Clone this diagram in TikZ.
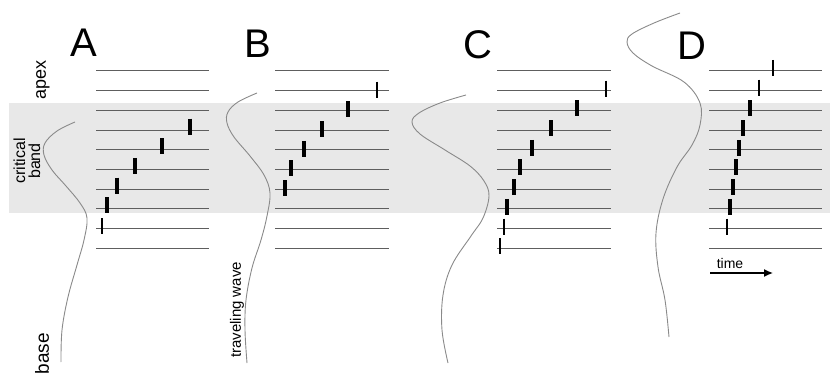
\documentclass[tikz,border=0pt]{standalone}
\usepackage{fontspec}
\setmainfont{Liberation Sans}
\usetikzlibrary{arrows.meta}
\definecolor{bandgray}{HTML}{E8E8E8}
\definecolor{linegray}{HTML}{5E5E5E}
\definecolor{wavegray}{HTML}{8A8A8A}
\begin{document}
\begin{tikzpicture}[x=1pt,y=-1pt,
  fiber/.style={draw=linegray,line width=1pt},
  wave/.style={draw=wavegray,line width=0.9pt},
  thickspike/.style={line width=4pt,black},
  thinspike/.style={line width=1.5pt,black},
  panel/.style={font=\fontsize{40}{40}\selectfont,inner sep=0pt,anchor=base},
  sidelabel/.style={rotate=90,inner sep=0pt,align=center}]
\useasboundingbox (0,0) rectangle (830,374);
% critical band
\fill[bandgray] (9,103) rectangle (830,213);
% fibers
\foreach \xa/\xb in {96/209,275/389,497/611,709/822}{
  \foreach \i in {1,...,10}{
    \draw[fiber] (\xa,{71+19.7*(\i-1)}) -- (\xb,{71+19.7*(\i-1)});
  }
}
% spikes: x / line index / type / vertical offset
\foreach \x/\i/\t/\o in {
  190/4/thickspike/-3.5, 162/5/thickspike/-3.5, 135/6/thickspike/-3.5,
  117/7/thickspike/-3.5, 107/8/thickspike/-3.5, 102/9/thinspike/-2.5,
  377/2/thinspike/-1, 348/3/thickspike/-1, 322/4/thickspike/-1,
  304/5/thickspike/-1, 291/6/thickspike/-1, 285/7/thickspike/-1,
  606/2/thinspike/-2, 577/3/thickspike/-2, 551/4/thickspike/-2,
  532/5/thickspike/-2, 520/6/thickspike/-2, 514/7/thickspike/-2,
  507/8/thickspike/-2, 504/9/thinspike/-2, 500/10/thinspike/-2,
  773/1/thinspike/-3, 759/2/thinspike/-3, 750/3/thickspike/-2,
  743/4/thickspike/-2, 739/5/thickspike/-2, 736/6/thickspike/-2,
  733/7/thickspike/-2, 730/8/thickspike/-2, 727/9/thinspike/-2}{
  \draw[\t] (\x,{71+19.7*(\i-1)+\o-8}) -- (\x,{71+19.7*(\i-1)+\o+8});
}
% traveling waves
\draw[wave] plot[smooth,tension=0.6] coordinates {(75,122) (57,131) (45,143) (44,155) (52,170) (66,186) (80,203) (87,218) (84,240) (77,265) (68,297) (62,330) (61,362)};
\draw[wave] plot[smooth,tension=0.6] coordinates {(257,93) (238,102) (228,112) (227,123) (234,137) (250,156) (264,175) (270,193) (267,216) (261,240) (252,268) (246,300) (245,330) (247,363)};
\draw[wave] plot[smooth,tension=0.6] coordinates {(466,95) (440,103) (419,113) (412,122) (420,134) (445,150) (470,166) (484,181) (489,196) (483,218) (471,236) (452,265) (443,295) (442,330) (448,363)};
\draw[wave] plot[smooth,tension=0.6] coordinates {(680,13) (654,23) (632,34) (627,42) (633,53) (652,66) (684,82) (700,103) (700,125) (692,145) (677,167) (663,199) (656,233) (658,267) (665,300) (669,337)};
% panel letters
\node[panel] (lA) at (84,57) {A};
\node[panel] (lB) at (258,58) {B};
\node[panel] (lC) at (478,59) {C};
\node[panel] (lD) at (692,60) {D};
% side labels
\node[sidelabel,font=\fontsize{18}{18}\selectfont] (apex) at (43,80) {apex};
\node[sidelabel,font=\fontsize{16}{15}\selectfont] (cb) at (27,161) {critical\\band};
\node[sidelabel,font=\fontsize{19}{19}\selectfont,anchor=east] (base) at (42,333) {base};
\node[sidelabel,font=\fontsize{15}{15}\selectfont] (tw) at (237,310) {traveling wave};
% time arrow
\node[inner sep=0pt,anchor=base,font=\fontsize{14}{14}\selectfont] (time) at (730,269) {time};
\coordinate (t0) at (710,273);
\coordinate (t1) at (773,273);
\draw[line width=1.3pt,-{Latex[length=9pt,width=8pt]}] (t0) -- (t1);
\end{tikzpicture}
\end{document}
